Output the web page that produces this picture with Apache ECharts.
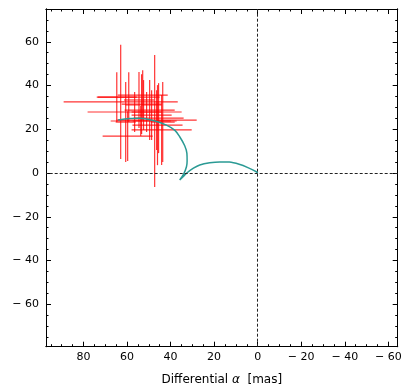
<!DOCTYPE html>
<html>
<head>
<meta charset="utf-8">
<script src="https://cdn.jsdelivr.net/npm/echarts@6/dist/echarts.min.js"></script>
<style>
  html, body { margin: 0; padding: 0; background: #fff; }
  #chart { width: 407px; height: 390px; }
</style>
</head>
<body>
<div id="chart"></div>
<script>
  // 轴范围 (x 轴反向)
  var xMin = -64.3, xMax = 97.2;
  var yMin = -79.4, yMax = 75;

  var xMajor = [-60, -40, -20, 0, 20, 40, 60, 80];
  var yMajor = [-60, -40, -20, 0, 20, 40, 60];
  var xMinor = [-60, -55, -50, -45, -40, -35, -30, -25, -20, -15, -10, -5, 0, 5, 10, 15, 20, 25, 30, 35, 40, 45, 50, 55, 60, 65, 70, 75, 80, 85, 90, 95];
  var yMinor = [-75, -70, -65, -60, -55, -50, -45, -40, -35, -30, -25, -20, -15, -10, -5, 0, 5, 10, 15, 20, 25, 30, 35, 40, 45, 50, 55, 60, 65, 70, 75];

  // 观测点及误差
  var ptX  = [62.9, 64.7, 59.2, 56.5, 46.4, 59.7, 54.5, 53.3, 52.4, 47.3, 49.6, 45.5, 43.6, 51.0, 48.7, 46.0, 52.8, 44.1, 53.7, 60.6];
  var ptY  = [32.5, 34.7, 34.7, 27.9, 24.2, 16.9, 33.4, 31.5, 31.1, 23.8, 28.8, 25.1, 23.3, 27.9, 26.5, 21.9, 35.6, 19.7, 23.8, 23.3];
  var errX = [26.2, 9.2, 14.2, 21.6, 18.4, 11.5, 6.9, 9.2, 8.3, 10.1, 11.5, 11.5, 5.5, 6.9, 9.2, 11.5, 11.5, 13.8, 13.8, 4.6];
  var errY = [26.1, 11.4, 11.4, 9.1, 13.7, 11.4, 12.8, 13.7, 11.4, 30.2, 13.7, 16.0, 18.3, 9.1, 11.4, 18.3, 11.4, 16.0, 6.9, 18.3];

  // 轨迹
  var trackX = [64.1, 59.0, 54.2, 48.0, 41.9, 38.0, 35.8, 33.5, 32.5, 32.4, 32.7, 34.0, 35.8, 34.0, 32.7, 29.5, 26.6, 22.0, 17.4, 13.0, 8.5, 4.5, 0.6, 0.0];
  var trackY = [24.2, 24.9, 25.0, 24.0, 21.9, 19.5, 16.6, 12.5, 9.0, 5.5, 2.9, -0.5, -3.2, -1.5, -0.1, 2.2, 3.7, 4.7, 5.1, 5.0, 4.0, 2.5, 0.6, 0.0];

  var chart = echarts.init(document.getElementById('chart'));

  function fmt(v) {
    return v < 0 ? '\u2212 ' + Math.abs(v) : String(v);
  }

  var lineStyle = { color: '#000', width: 1 };
  var font = 'DejaVu Sans';

  function mkX(pos, major, show) {
    return {
      type: 'value', position: pos, min: xMin, max: xMax, inverse: true,
      axisLine: { show: true, onZero: false, lineStyle: lineStyle },
      axisTick: { show: true, inside: true, length: major ? 5 : 2.5, customValues: major ? xMajor : xMinor, lineStyle: lineStyle },
      axisLabel: { show: show, customValues: xMajor, formatter: fmt, color: '#000', fontSize: 11, fontFamily: font, margin: 5 },
      splitLine: { show: false },
      name: show ? 'Differential {i|\u03b1}  [mas]' : '',
      nameLocation: 'middle', nameGap: 27,
      nameTextStyle: { color: '#000', fontSize: 12, fontFamily: font,
        rich: { i: { fontStyle: 'italic', fontSize: 12, fontFamily: font, color: '#000' } } }
    };
  }
  function mkY(pos, major, show) {
    return {
      type: 'value', position: pos, min: yMin, max: yMax,
      axisLine: { show: true, onZero: false, lineStyle: lineStyle },
      axisTick: { show: true, inside: true, length: major ? 5 : 2.5, customValues: major ? yMajor : yMinor, lineStyle: lineStyle },
      axisLabel: { show: show, customValues: yMajor, formatter: fmt, color: '#000', fontSize: 11, fontFamily: font, margin: 7 },
      splitLine: { show: false },
      name: show ? 'Differential {i|\u03b4}  [mas]' : '',
      nameLocation: 'middle', nameGap: 28,
      nameTextStyle: { color: '#000', fontSize: 12, fontFamily: font,
        rich: { i: { fontStyle: 'italic', fontSize: 12, fontFamily: font, color: '#000' } } }
    };
  }

  var errData = ptX.map(function (x, i) { return [x, ptY[i], errX[i], errY[i]]; });
  var trackData = trackX.map(function (x, i) { return [x, trackY[i]]; });

  var option = {
    animation: false,
    grid: { left: 46, right: 9.3, top: 9, bottom: 43.3, containLabel: false, outerBoundsMode: 'none' },
    xAxis: [mkX('bottom', true, true), mkX('bottom', false, false), mkX('top', true, false), mkX('top', false, false)],
    yAxis: [mkY('left', true, true), mkY('left', false, false), mkY('right', true, false), mkY('right', false, false)],
    series: [
      {
        type: 'custom',
        z: 2,
        data: errData,
        renderItem: function (params, api) {
          var x = api.value(0), y = api.value(1), ex = api.value(2), ey = api.value(3);
          var l = api.coord([x - ex, y]), r = api.coord([x + ex, y]);
          var t = api.coord([x, y + ey]), b = api.coord([x, y - ey]);
          var st = { stroke: 'rgba(255,0,0,0.8)', lineWidth: 1.2 };
          return {
            type: 'group',
            children: [
              { type: 'line', shape: { x1: l[0], y1: l[1], x2: r[0], y2: r[1] }, style: st },
              { type: 'line', shape: { x1: t[0], y1: t[1], x2: b[0], y2: b[1] }, style: st }
            ]
          };
        }
      },
      {
        type: 'line',
        z: 3,
        data: trackData,
        showSymbol: false,
        smooth: 0.3,
        lineStyle: { color: '#2a9a94', width: 1.5 },
        markLine: {
          silent: true, symbol: 'none', label: { show: false },
          lineStyle: { color: '#222', type: [3, 2], width: 1 },
          data: [{ xAxis: 0 }, { yAxis: 0 }]
        }
      }
    ]
  };

  chart.setOption(option);
</script>
</body>
</html>
